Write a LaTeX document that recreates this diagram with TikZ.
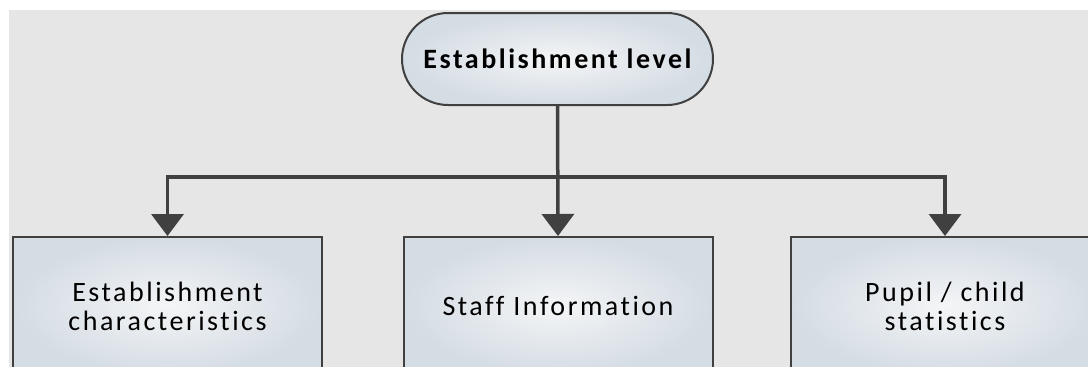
\documentclass[tikz,border=0pt]{standalone}
\usepackage{fontspec}
\setmainfont{Carlito}[LetterSpace=9,Ligatures={NoCommon,NoRequired,NoContextual}]
\usetikzlibrary{arrows.meta,shapes.misc}
\definecolor{bggray}{HTML}{E6E6E6}
\definecolor{edge}{HTML}{404040}
\definecolor{fillin}{HTML}{F4F5F6}
\definecolor{fillout}{HTML}{D4DCE4}
\tikzset{
  stepbox/.style={draw=edge, line width=2pt, inner color=fillin, outer color=fillout,
    minimum width=309pt, minimum height=138pt, align=center, font=\fontsize{28}{29}\selectfont, text=black},
  termbox/.style={rounded rectangle, draw=edge, line width=2pt, inner color=fillin, outer color=fillout,
    minimum width=311pt, minimum height=92pt, inner xsep=0pt, font=\fontsize{28}{30}\selectfont\bfseries, text=black},
  conn/.style={draw=edge, line width=3.5pt, line join=miter},
  tip/.style={-{Triangle[width=32pt,length=22pt]}}
}
\begin{document}
\begin{tikzpicture}[x=1pt,y=-1pt]
\clip (0,0) rectangle (1088,367);
\fill[white] (0,0) rectangle (1088,367);
\fill[bggray] (9,10) rectangle (1088,367);
\node[termbox] (top) at (557.5,59) {Establishment level};
\node[stepbox] (b1) at (167.5,306) {Establishment\\characteristics};
\node[stepbox] (b2) at (558,306) {Staff Information};
\node[stepbox] (b3) at (945,306) {Pupil / child\\statistics};
\coordinate (j) at (558,177);
\draw[conn,tip] (top.south) -- (b2.north);
\draw[conn,{Triangle[width=32pt,length=22pt]}-{Triangle[width=32pt,length=22pt]}] (b1.north) |- (j) -| (b3.north);
\end{tikzpicture}
\end{document}
